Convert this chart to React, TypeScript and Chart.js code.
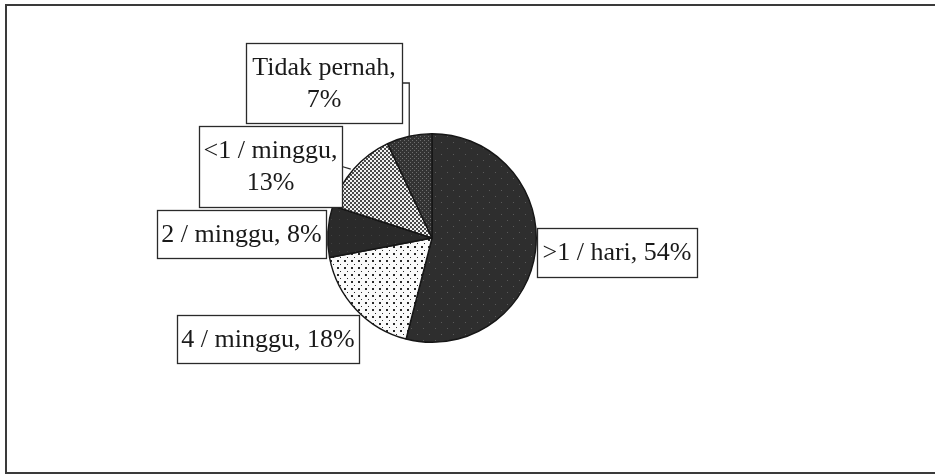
import React, { useEffect, useRef } from "react";
import { Chart, registerables } from "chart.js";

Chart.register(...registerables);

// ---- data ----
const categories = [">1 / hari", "4 / minggu", "2 / minggu", "<1 / minggu", "Tidak pernah"];
const percentages = [54, 18, 8, 13, 7];
const wrapLabel = [false, false, false, true, true];

// ---- layout (label boxes, offsets relative to pie centre) ----
const labelBoxes = [
  { dx: 105, dy: -10, w: 160, h: 49, leader: "none" },
  { dx: -255, dy: 77, w: 182, h: 48, leader: "none" },
  { dx: -275, dy: -28, w: 169, h: 48, leader: "none" },
  { dx: -233, dy: -112, w: 143, h: 81, leader: "straight" },
  { dx: -186, dy: -195, w: 156, h: 80, leader: "elbow" },
];

const FONT = "26px 'Liberation Serif', 'Times New Roman', serif";
const INK = "#1a1a1a";

function makePattern(size: number, bg: string, fg: string, dots: number[][]): CanvasPattern | string {
  const c = document.createElement("canvas");
  c.width = size;
  c.height = size;
  const g = c.getContext("2d");
  if (!g) return bg;
  g.fillStyle = bg;
  g.fillRect(0, 0, size, size);
  g.fillStyle = fg;
  dots.forEach(([x, y, s]) => g.fillRect(x, y, s, s));
  const p = g.createPattern(c, "repeat");
  return p || bg;
}

const framePlugin = {
  id: "frame",
  beforeDraw(chart: any) {
    const ctx = chart.ctx;
    ctx.save();
    ctx.fillStyle = "#ffffff";
    ctx.fillRect(0, 0, chart.width, chart.height);
    ctx.strokeStyle = "#3a3a3a";
    ctx.lineWidth = 2;
    ctx.strokeRect(6, 5, chart.width + 10, chart.height - 8);
    ctx.restore();
  },
};

const labelPlugin = {
  id: "boxLabels",
  afterDatasetsDraw(chart: any) {
    const ctx = chart.ctx;
    const meta = chart.getDatasetMeta(0);
    ctx.save();
    ctx.font = FONT;
    ctx.textAlign = "center";
    ctx.textBaseline = "middle";
    meta.data.forEach((arc: any, i: number) => {
      const p = arc.getProps(["x", "y", "startAngle", "endAngle", "outerRadius"], true);
      const box = labelBoxes[i];
      const left = p.x + box.dx;
      const top = p.y + box.dy;
      const mid = (p.startAngle + p.endAngle) / 2;
      const ax = p.x + Math.cos(mid) * p.outerRadius;
      const ay = p.y + Math.sin(mid) * p.outerRadius;
      const right = left + box.w;
      const cy = top + box.h / 2;
      ctx.strokeStyle = "#2a2a2a";
      ctx.lineWidth = 1.3;
      if (box.leader === "elbow") {
        ctx.beginPath();
        ctx.moveTo(right, cy);
        ctx.lineTo(ax, cy);
        ctx.lineTo(ax, ay);
        ctx.stroke();
      } else if (box.leader === "straight") {
        ctx.beginPath();
        ctx.moveTo(right, cy);
        ctx.lineTo(ax - 3, ay);
        ctx.stroke();
      }
      ctx.fillStyle = "#ffffff";
      ctx.fillRect(left, top, box.w, box.h);
      ctx.strokeRect(left + 0.5, top + 0.5, box.w, box.h);
      const lines = wrapLabel[i]
        ? [categories[i] + ",", percentages[i] + "%"]
        : [categories[i] + ", " + percentages[i] + "%"];
      const lh = 32;
      ctx.fillStyle = INK;
      lines.forEach((t, k) => {
        const y = cy + (k - (lines.length - 1) / 2) * lh + 1;
        ctx.fillText(t, left + box.w / 2, y);
      });
    });
    ctx.restore();
  },
};

export default function App() {
  const ref = useRef<HTMLCanvasElement | null>(null);
  useEffect(() => {
    if (!ref.current) return;
    const fills = [
      makePattern(12, "#2e2e2e", "#5a5a5a", [[3, 4, 1], [9, 10, 1]]),
      makePattern(7, "#fafafa", "#2a2a2a", [[1, 1, 2], [4, 5, 1]]),
      makePattern(8, "#2a2a2a", "#404040", [[3, 3, 1]]),
      makePattern(4, "#f2f2f2", "#4a4a4a", [[0, 0, 2], [2, 2, 2]]),
      makePattern(4, "#333333", "#6e6e6e", [[0, 0, 1], [2, 2, 1]]),
    ];
    const chart = new Chart(ref.current, {
      type: "pie",
      data: {
        labels: categories,
        datasets: [
          {
            data: percentages,
            backgroundColor: fills as any,
            borderColor: "#161616",
            borderWidth: 1.4,
          },
        ],
      },
      options: {
        responsive: false,
        animation: false,
        layout: { padding: { left: 327, right: 398, top: 133, bottom: 133 } },
        plugins: {
          legend: { display: false },
          tooltip: { enabled: false },
        },
      },
      plugins: [framePlugin, labelPlugin],
    });
    return () => chart.destroy();
  }, []);
  return (
    <div style={{ position: "absolute", left: 0, top: 0, width: 935, height: 476 }}>
      <canvas ref={ref} width={935} height={476} style={{ width: 935, height: 476, display: "block" }} />
    </div>
  );
}
